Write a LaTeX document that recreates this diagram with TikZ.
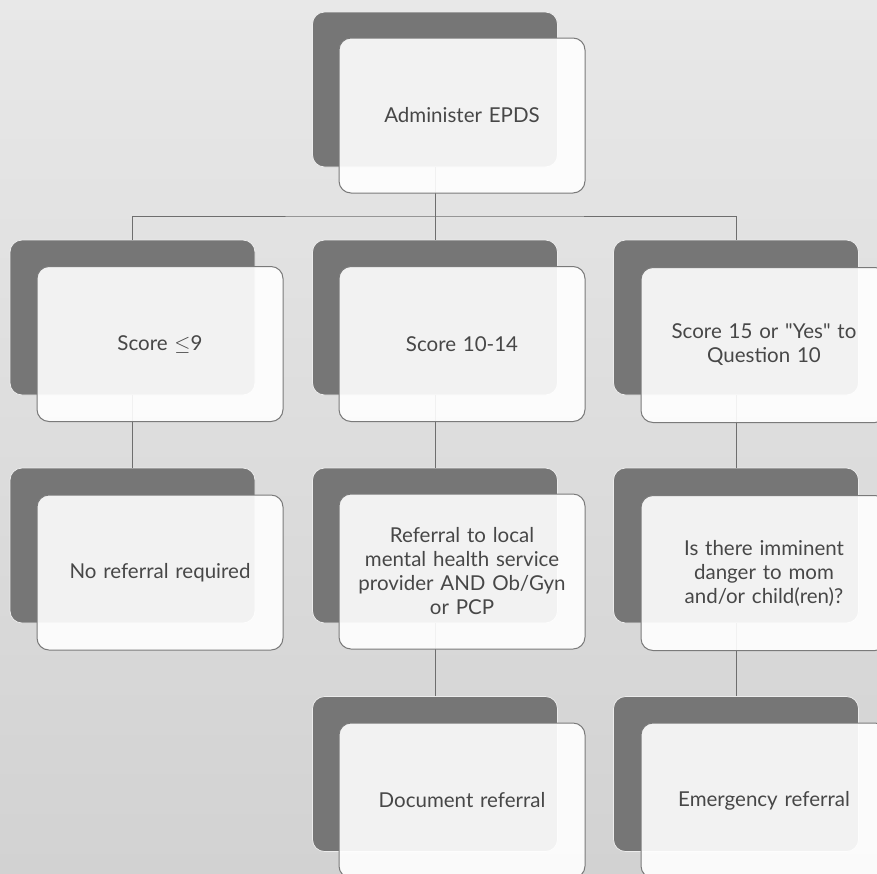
\documentclass[tikz,border=0pt]{standalone}
\usepackage{fontspec}
\setmainfont{Lato}[WordSpace=2.1]
\newfontfamily\qfont{Lato}[Ligatures=TeXOff]
\usetikzlibrary{backgrounds}
\definecolor{bgA}{HTML}{E8E8E8}
\definecolor{bgB}{HTML}{D2D2D2}
\definecolor{darkbox}{HTML}{767676}
\definecolor{edgegray}{HTML}{7A7A7A}
\definecolor{txt}{HTML}{474747}
\definecolor{linegray}{HTML}{6E6E6E}
\tikzset{
  backbox/.style={rectangle, rounded corners=12pt, minimum width=245pt, minimum height=155pt,
    fill=darkbox, draw=white!85!gray, line width=0.8pt, inner sep=0pt},
  frontbox/.style={rectangle, rounded corners=12pt, minimum width=246pt, minimum height=155pt,
    fill=white, fill opacity=0.91, text opacity=1, draw=edgegray, line width=1pt,
    text=txt, font=\fontsize{20.5}{24}\selectfont, align=center, text width=240pt, inner sep=0pt},
  conn/.style={draw=linegray, line width=0.9pt}
}
\newcommand{\sq}{{\qfont\char34}}
\begin{document}
\begin{tikzpicture}[x=1pt,y=-1pt]
\useasboundingbox (0,0) rectangle (877,873);
\shade[top color=bgA, bottom color=bgB] (0,0) rectangle (877,873);
% back boxes
\node[backbox] (b0) at (435,89.5) {};
\node[backbox] (bl) at (132.5,317.5) {};
\node[backbox] (bm) at (435,317.5) {};
\node[backbox] (br) at (736,317.5) {};
\node[backbox] (cl) at (132.5,545.5) {};
\node[backbox] (cm) at (435,545.5) {};
\node[backbox] (cr) at (736,545.5) {};
\node[backbox] (dm) at (435,774) {};
\node[backbox] (dr) at (736,774) {};
% connectors
\coordinate (bus) at (435,216);
\draw[conn] (b0.south) -- (bus);
\draw[conn] (bl.north) |- (bus) -| (br.north);
\draw[conn] (bus) -- (bm.north);
\draw[conn] (bl.south) -- (cl.north);
\draw[conn] (bm.south) -- (cm.north);
\draw[conn] (br.south) -- (cr.north);
\draw[conn] (cm.south) -- (dm.north);
\draw[conn] (cr.south) -- (dr.north);
% front boxes
\node[frontbox] (f0) at (462,115.5) {Administer EPDS};
\node[frontbox] (fl) at (160,344) {Score \ensuremath{\leq}9};
\node[frontbox] (fm) at (462,344) {Score 10-14};
\node[frontbox] (fr) at (764,345) {Score 15 or \sq Yes\sq{} to\\Question 10};
\node[frontbox] (gl) at (160,572.5) {No referral required};
\node[frontbox] (gm) at (462,571.5) {Referral to local\\mental health service\\provider AND Ob/Gyn\\or PCP};
\node[frontbox] (gr) at (764,573) {Is there imminent\\danger to mom\\and/or child(ren)?};
\node[frontbox] (hm) at (462,800.5) {Document referral};
\node[frontbox] (hr) at (764,800.5) {Emergency referral};
\end{tikzpicture}
\end{document}
